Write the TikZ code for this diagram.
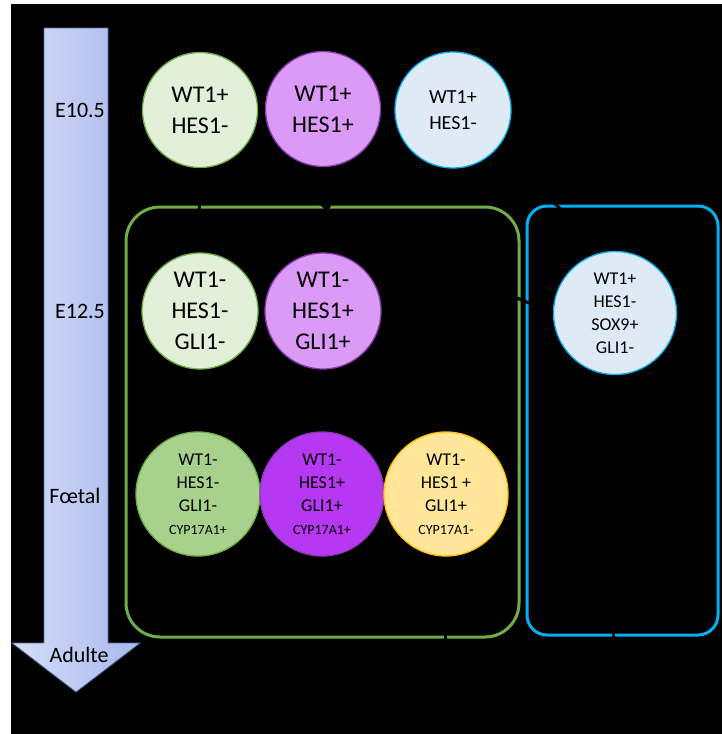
\documentclass[tikz,border=0pt]{standalone}
\usepackage{fontspec}
\setmainfont{Carlito}
\usetikzlibrary{arrows.meta}
\definecolor{gline}{HTML}{70AD47}
\definecolor{bline}{HTML}{00B0F0}
\definecolor{gpale}{HTML}{E2F0D9}
\definecolor{gmid}{HTML}{A9D18E}
\definecolor{ppale}{HTML}{DC9AF7}
\definecolor{pstrong}{HTML}{B638F2}
\definecolor{pline}{HTML}{8A3AB0}
\definecolor{bpale}{HTML}{DEEBF7}
\definecolor{ypale}{HTML}{FFE699}
\definecolor{yline}{HTML}{FFC000}
\definecolor{arrL}{HTML}{D6DEF7}
\definecolor{arrR}{HTML}{A8B8EC}
\definecolor{arrB}{HTML}{4F6C9E}
\newcommand{\cyptxt}[1]{{\fontsize{14}{23}\selectfont #1}}
\tikzset{
  cell/.style={circle, inner sep=0pt, align=center, line width=1.3pt, text=black},
  bigtxt/.style={font=\fontsize{24}{31}\selectfont},
  midtxt/.style={font=\fontsize{20}{26}\selectfont},
  smalltxt/.style={font=\fontsize{18}{23}\selectfont},
  stagetxt/.style={font=\fontsize{22}{26}\selectfont, text=black, inner sep=0pt},
  hidden/.style={draw=black, line width=3pt},
}
\begin{document}
\begin{tikzpicture}[x=1pt,y=-1pt]
\useasboundingbox (0,0) rectangle (722,734);
\fill[white] (0,0) rectangle (722,734);
\fill[black] (11,4) rectangle (722,734);
% time arrow
\shade[left color=arrL, right color=arrR, draw=arrB, line width=0.8pt]
  (44,28) -- (108,28) -- (108,643) -- (140,643) -- (76,692) -- (12,643) -- (44,643) -- cycle;
\node[stagetxt] (s1) at (80,110) {E10.5};
\node[stagetxt] (s2) at (80,311) {E12.5};
\node[stagetxt] (s3) at (75,496) {Fœtal};
\node[stagetxt] (s4) at (79,655) {Adulte};
% boxes
\draw[gline, line width=3pt, rounded corners=34pt] (126,207) rectangle (519,637);
\draw[bline, line width=3pt, rounded corners=20pt] (527,206) rectangle (718,635);
% row 1
\node[cell, bigtxt, fill=gpale, draw=gline, minimum size=115pt] (a1) at (200,110) {WT1+\\HES1-};
\node[cell, bigtxt, fill=ppale, draw=pline, minimum size=115pt] (a2) at (323,109) {WT1+\\HES1+};
\node[cell, midtxt, fill=bpale, draw=bline, minimum size=116pt] (a3) at (453,110) {WT1+\\HES1-};
% row 2
\node[cell, bigtxt, fill=gpale, draw=gline, minimum size=116pt] (b1) at (200,311) {WT1-\\HES1-\\GLI1-};
\node[cell, bigtxt, fill=ppale, draw=pline, minimum size=116pt] (b2) at (323,311) {WT1-\\HES1+\\GLI1+};
\node[cell, smalltxt, fill=bpale, draw=bline, minimum size=123pt] (b3) at (615,313) {WT1+\\HES1-\\SOX9+\\GLI1-};
% row 3
\node[cell, smalltxt, fill=gmid, draw=gline, minimum size=124pt] (c1) at (198,494)
  {WT1-\\HES1-\\GLI1-\\\cyptxt{CYP17A1+}};
\node[cell, smalltxt, fill=pstrong, draw=pline, minimum size=124pt] (c2) at (322,494)
  {WT1-\\HES1+\\GLI1+\\\cyptxt{CYP17A1+}};
\node[cell, smalltxt, fill=ypale, draw=yline, minimum size=124pt] (c3) at (446,494)
  {WT1-\\HES1 +\\GLI1+\\\cyptxt{CYP17A1-}};
% black connectors (visible only where they cross coloured lines)
\coordinate (k1) at (199,222);
\coordinate (k2) at (327,212);
\coordinate (k3) at (566,214);
\coordinate (k4) at (505,293);
\coordinate (k5a) at (445,622);
\coordinate (k5b) at (445,665);
\coordinate (k6a) at (613,620);
\coordinate (k6b) at (613,665);
\draw[hidden] (a1.south) -- (k1);
\draw[hidden, -{Stealth[length=9pt,width=14pt]}] (a2.south) -- (k2);
\draw[hidden] (a3) ++(42:64) -- (k3);
\draw[hidden] (k4) -- (b3.west);
\draw[hidden] (k5a) -- (k5b);
\draw[hidden] (k6a) -- (k6b);
\end{tikzpicture}
\end{document}
